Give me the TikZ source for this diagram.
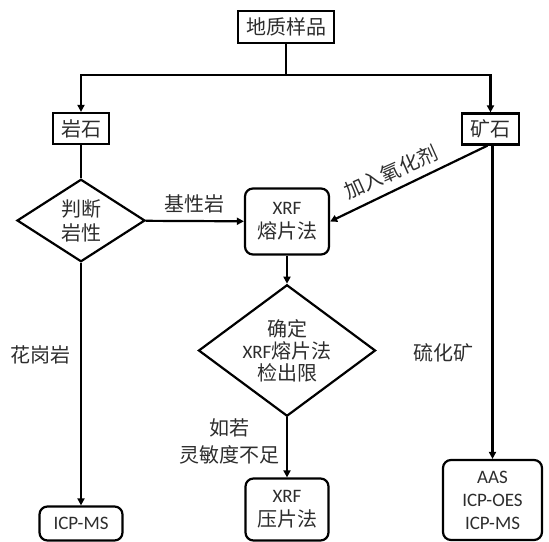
\documentclass[tikz,border=0pt]{standalone}
\usepackage{fontspec}
\setmainfont{Noto Sans CJK SC}
\newfontfamily\latin[Scale=0.95]{Carlito}
\usetikzlibrary{
    shapes.geometric,
    arrows.meta,
    positioning
}
\definecolor{inkgray}{RGB}{45,45,45}
\tikzset{
    % Boxes
    plainbox/.style={
        rectangle,
        draw=black,
        line width=2.2pt,
        inner sep=0pt,
        align=center,
        text=inkgray,
        font=\fontsize{20}{24}\selectfont
    },
    procbox/.style={
        plainbox,
        rounded corners=8pt
    },
    % Decisions
    decision/.style={
        diamond,
        draw=black,
        line width=2.2pt,
        inner sep=0pt,
        align=center,
        text=inkgray,
        font=\fontsize{20}{24}\selectfont
    },
    % Connectors
    link/.style={
        line width=2.2pt,
        draw=black
    },
    arrow/.style={
        -{Triangle[length=7pt,width=7pt]},
        line width=2.2pt,
        draw=black
    },
    % Labels
    edgelabel/.style={
        text=inkgray,
        inner sep=2pt,
        align=center,
        font=\fontsize{20}{27}\selectfont
    }
}

\begin{document}
\begin{tikzpicture}[x=1pt, y=-1pt]

    \useasboundingbox (0,0) rectangle (549,541);

    % Sample
    \node[plainbox, minimum width=96pt, minimum height=32pt] (sample) at (286,27) {地质样品};
    \coordinate (split) at (286,75);

    % Rock and ore
    \node[plainbox, minimum width=56pt, minimum height=31pt] (rock) at (81,128.5) {岩石};
    \node[plainbox, minimum width=57pt, minimum height=31pt] (ore) at (490.5,129) {矿石};

    % Rock type
    \node[decision, minimum width=128pt, minimum height=73pt] (judge) at (81,220.5) {判断\\岩性};

    % Fused bead
    \node[procbox, minimum width=84pt, minimum height=66pt] (fuse) at (287,221.5) {{\latin XRF}\\熔片法};

    % Detection limit
    \node[decision, minimum width=177pt, minimum height=111pt, inner sep=-5pt,
          font=\fontsize{20}{22}\selectfont] (limit) at (287,350.5) {确定\\{\latin XRF}熔片法\\检出限};

    % Methods
    \node[procbox, minimum width=83pt, minimum height=62pt] (press) at (287,509.5) {{\latin XRF}\\压片法};
    \node[procbox, minimum width=83pt, minimum height=34pt, font=\latin\fontsize{20}{24}\selectfont] (icpms) at (81,523.5) {ICP-MS};
    \node[procbox, minimum width=99pt, minimum height=80pt, font=\latin\fontsize{20}{23}\selectfont] (multi) at (492.5,500) {AAS\\ICP-OES\\ICP-MS};

    % Arrows
    \draw[link] (sample) -- (split);
    \draw[arrow] (split) -| (rock);
    \draw[arrow] (split) -| (ore);
    \draw[link] (rock) -- (judge);
    \draw[arrow] (judge) -- node[edgelabel, above=5pt] (basic) {基性岩} (fuse);
    \draw[arrow] ([xshift=-3pt]ore.south) -- (fuse.east);
    \node[edgelabel, rotate=24] (oxid) at (391,172) {加入氧化剂};
    \draw[arrow] (fuse) -- (limit);
    \draw[arrow] (limit) -- node[edgelabel, left=4pt, pos=0.4] (weak) {如若\\灵敏度不足} (press);
    \draw[arrow] (judge) -- node[edgelabel, left=7pt, pos=0.38] (granite) {花岗岩} (icpms);
    \draw[arrow] (ore.south -| multi.north) -- node[edgelabel, left=16pt, pos=0.66] (sulfide) {硫化矿} (multi);

\end{tikzpicture}
\end{document}
